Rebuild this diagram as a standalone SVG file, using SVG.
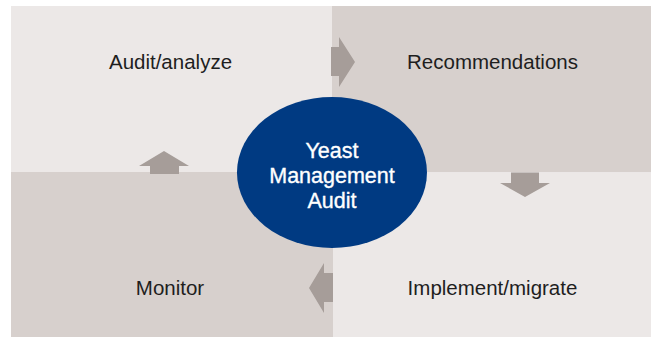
<svg xmlns="http://www.w3.org/2000/svg" width="651" height="337" viewBox="0 0 651 337">
<style>
.light{fill:#ece8e7}
.dark{fill:#d7d0cd}
.arrow{fill:#a69d99}
.lbl{font-family:"Liberation Sans",Arial,sans-serif;font-size:20.5px;fill:#1e1e1e;text-anchor:middle}
.ctr{font-family:"Liberation Sans",Arial,sans-serif;font-size:21.5px;fill:#ffffff;stroke:#ffffff;stroke-width:0.35px;text-anchor:middle}
</style>
<rect width="651" height="337" fill="#ffffff"/>
<g id="audit-analyze">
<rect class="light" x="11" y="6" width="321" height="166"/>
<text class="lbl" x="170.5" y="69">Audit/analyze</text>
</g>
<g id="recommendations">
<rect class="dark" x="332" y="6" width="319" height="166.5"/>
<text class="lbl" x="492.5" y="69">Recommendations</text>
</g>
<g id="monitor">
<rect class="dark" x="11" y="172" width="322" height="165"/>
<text class="lbl" x="170" y="295">Monitor</text>
</g>
<g id="implement-migrate">
<rect class="light" x="333" y="172.5" width="318" height="164.5"/>
<text class="lbl" x="492.5" y="295">Implement/migrate</text>
</g>
<g id="connectors">
<polygon class="arrow" points="331,47 339,47 339,37 355,62 339,87 339,76 331,76"/>
<polygon class="arrow" points="511,172.5 539,172.5 539,183 550,183 525,197 500,183 511,183"/>
<polygon class="arrow" points="333,273 324,273 324,263 309,288 324,313 324,302 333,302"/>
<polygon class="arrow" points="179,174 179,166 189,166 164,151 139,166 150,166 150,174"/>
</g>
<g id="yeast-management-audit">
<ellipse cx="332" cy="172.5" rx="95" ry="75.5" fill="#003a82"/>
<text class="ctr" x="332" y="158">Yeast</text>
<text class="ctr" x="332" y="183">Management</text>
<text class="ctr" x="332" y="208">Audit</text>
</g>
</svg>
